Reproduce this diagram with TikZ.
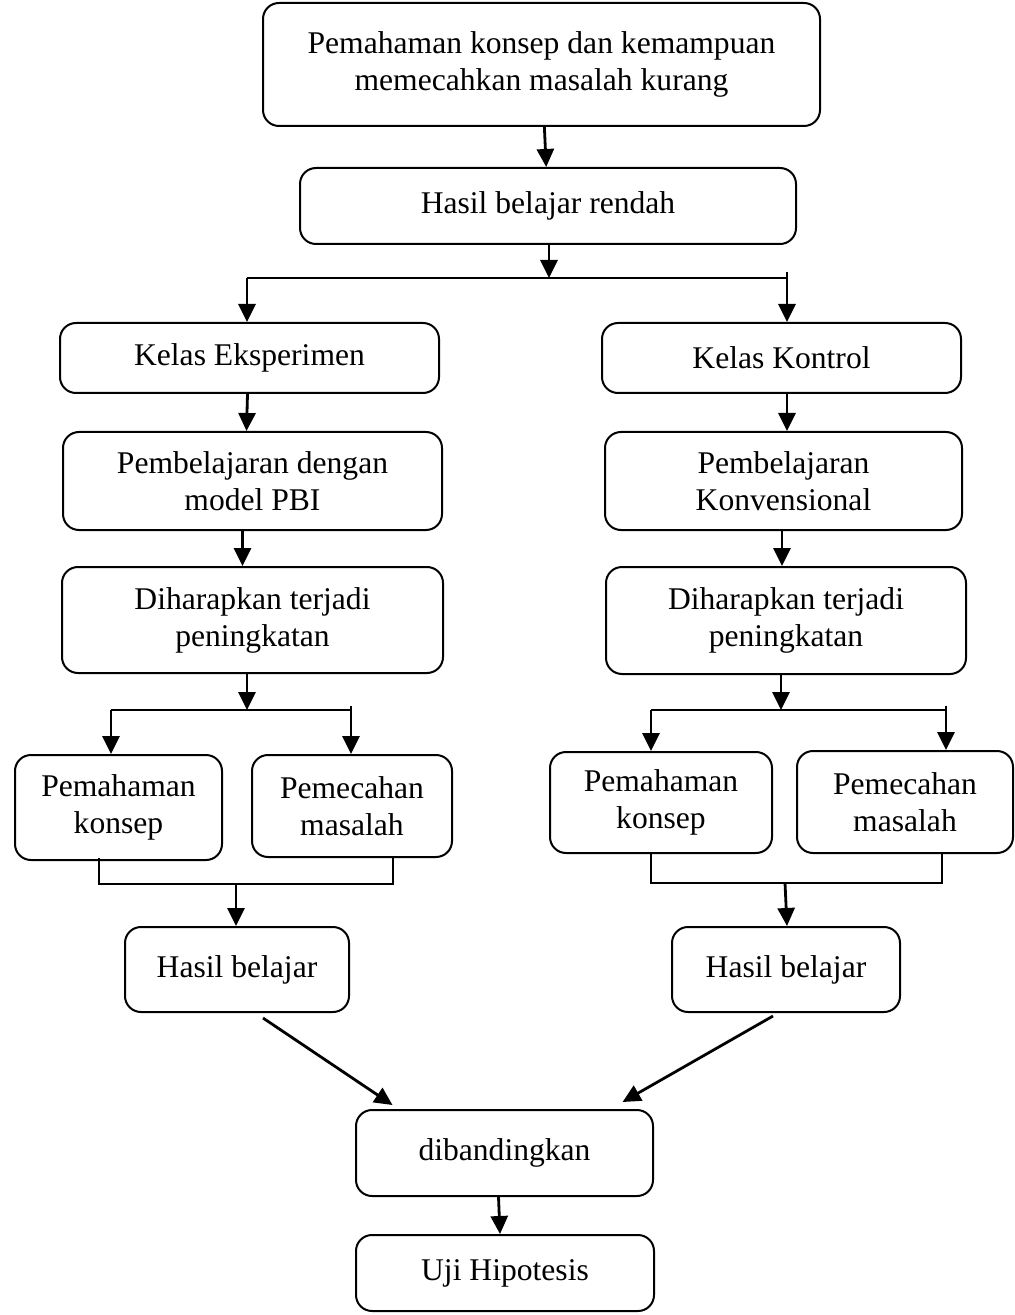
\documentclass[tikz,border=0pt]{standalone}
\usepackage{fontspec}
\setmainfont{Liberation Serif}
\usetikzlibrary{arrows.meta}
\tikzset{
  box/.style   = {draw, rounded corners=8pt, align=center, inner sep=0pt,
                  line width=1pt, font=\fontsize{15.8}{18.5}\selectfont},
  flow/.style  = {-{Triangle[length=9pt,width=8.5pt]}, line width=1.4pt},
  link/.style  = {line width=1.1pt},
  brace/.style = {line width=0.8pt},
}

\begin{document}
\begin{tikzpicture}[x=0.5pt, y=-0.5pt]
  \useasboundingbox (0,0) rectangle (1014,1315);
  % ---- common start ----
  \node[box, minimum width=278.5pt, minimum height=61.5pt] (top) at (541.5,64.5)
    {Pemahaman konsep dan kemampuan\\ memecahkan masalah kurang};
  \node[box, minimum width=248pt, minimum height=38pt] (rendah) at (548,206)
    {Hasil belajar rendah};
  \draw[flow] (top) -- (rendah);
  \coordinate (jm) at (549,278);
  \coordinate (jl) at (247,278);
  \coordinate (jr) at (787,278);
  \draw[flow] ([xshift=0.5pt]rendah.south) -- (jm);
  \draw[link] (jl) -- (jr);
  % ---- experiment column ----
  \node[box, minimum width=189.5pt, minimum height=35pt] (eksp) at (249.5,358)
    {Kelas Eksperimen};
  \node[box, minimum width=189.5pt, minimum height=49pt] (pbi) at (252.5,481)
    {Pembelajaran dengan\\ model PBI};
  \node[box, minimum width=190.5pt, minimum height=53pt] (harapL) at (252.5,620)
    {Diharapkan terjadi\\ peningkatan};
  \node[box, minimum width=103.5pt, minimum height=52.5pt] (pkL) at (118.5,807.5)
    {Pemahaman\\ konsep};
  \node[box, minimum width=100pt, minimum height=51pt] (pmL) at (352,806)
    {Pemecahan\\ masalah};
  \node[box, minimum width=112pt, minimum height=42.5pt] (hbL) at (237,969.5)
    {Hasil belajar};
  \draw[flow] (jl) -- (jl |- eksp.north);
  \draw[flow] ([xshift=-1pt]eksp.south) -- ([xshift=-3pt]pbi.north);
  \draw[flow] ([xshift=-5pt]pbi.south) -- ([xshift=-5pt]harapL.north);
  \coordinate (bl) at (247,710);
  \coordinate (bl1) at (111,710);
  \coordinate (bl2) at (351,710);
  \draw[flow] (harapL.south -| bl) -- (bl);
  \draw[link] (bl1) -- (bl2);
  \draw[flow] (bl1) -- (bl1 |- pkL.north);
  \draw[flow] ([yshift=2pt]bl2) -- (bl2 |- pmL.north);
  \coordinate (ul) at (99,858);
  \coordinate (ur) at (393,858);
  \coordinate (um) at (236,884);
  \draw[brace] (ul) -- ++(0,26) -| (ur);
  \draw[flow] (um) -- (um |- hbL.north);
  % ---- control column ----
  \node[box, minimum width=179.5pt, minimum height=35pt] (kontrol) at (781.5,358)
    {Kelas Kontrol};
  \node[box, minimum width=178.5pt, minimum height=49pt] (konv) at (783.5,481)
    {Pembelajaran\\ Konvensional};
  \node[box, minimum width=180pt, minimum height=53.5pt] (harapR) at (786,620.5)
    {Diharapkan terjadi\\ peningkatan};
  \node[box, minimum width=111pt, minimum height=50.5pt] (pkR) at (661,802.5)
    {Pemahaman\\ konsep};
  \node[box, minimum width=108pt, minimum height=51pt] (pmR) at (905,802)
    {Pemecahan\\ masalah};
  \node[box, minimum width=114pt, minimum height=42.5pt] (hbR) at (786,969.5)
    {Hasil belajar};
  \draw[flow] ([yshift=3pt]jr) -- (jr |- kontrol.north);
  \draw[flow] ([xshift=2.75pt]kontrol.south) -- ([xshift=1.75pt]konv.north);
  \draw[flow] ([xshift=-0.75pt]konv.south) -- ([xshift=-2pt]harapR.north);
  \coordinate (br) at (781,710);
  \coordinate (br1) at (651,710);
  \coordinate (br2) at (946,710);
  \draw[flow] (harapR.south -| br) -- (br);
  \draw[link] (br1) -- (br2);
  \draw[flow] (br1) -- (br1 |- pkR.north);
  \draw[flow] ([yshift=2pt]br2) -- (br2 |- pmR.north);
  \coordinate (vl) at (651,853);
  \coordinate (vr) at (942,853);
  \coordinate (vm) at (785,883);
  \draw[brace] (vl) -- ++(0,30) -| (vr);
  \draw[flow] (vm) -- ([xshift=1pt]vm |- hbR.north);
  % ---- comparison ----
  \node[box, minimum width=148.5pt, minimum height=43pt] (banding) at (504.5,1153)
    {dibandingkan};
  \node[box, minimum width=149pt, minimum height=38pt] (uji) at (505,1273)
    {Uji Hipotesis};
  \draw[flow] ([shift={(26,5)}]hbL.south) -- ([shift={(-112,-4)}]banding.north);
  \draw[flow] ([shift={(-13,3)}]hbR.south) -- ([shift={(118,-7)}]banding.north);
  \draw[flow] ([xshift=-3pt]banding.south) -- ([xshift=-2.5pt]uji.north);
\end{tikzpicture}
\end{document}
